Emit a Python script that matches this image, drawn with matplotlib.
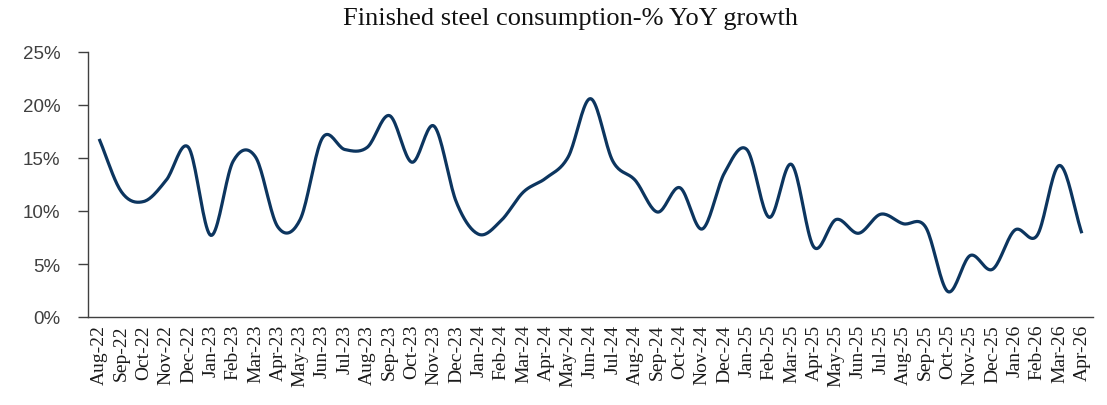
import numpy as np
import matplotlib
matplotlib.use("Agg")
import matplotlib.pyplot as plt
from matplotlib.ticker import FuncFormatter

# ====== DADOS ======
meses = ["Aug-22", "Sep-22", "Oct-22", "Nov-22", "Dec-22",
         "Jan-23", "Feb-23", "Mar-23", "Apr-23", "May-23", "Jun-23",
         "Jul-23", "Aug-23", "Sep-23", "Oct-23", "Nov-23", "Dec-23",
         "Jan-24", "Feb-24", "Mar-24", "Apr-24", "May-24", "Jun-24",
         "Jul-24", "Aug-24", "Sep-24", "Oct-24", "Nov-24", "Dec-24",
         "Jan-25", "Feb-25", "Mar-25", "Apr-25", "May-25", "Jun-25",
         "Jul-25", "Aug-25", "Sep-25", "Oct-25", "Nov-25", "Dec-25",
         "Jan-26", "Feb-26", "Mar-26", "Apr-26"]

crescimento = [16.8, 11.8, 10.9, 12.9, 16.0,
               7.7, 14.7, 15.1, 8.5, 9.2, 16.9,
               15.8, 16.0, 19.0, 14.6, 18.0, 10.8,
               7.8, 9.1, 11.8, 13.1, 15.1, 20.6,
               14.7, 12.9, 9.9, 12.2, 8.3, 13.6,
               15.8, 9.4, 14.4, 6.6, 9.2, 7.9,
               9.7, 8.8, 8.5, 2.4, 5.8, 4.5,
               8.2, 7.7, 14.3, 7.9]


# ====== SUAVIZACAO (estilo linha suave do Excel) ======
def catmull_rom(x, y, n=20):
    x = np.asarray(x, float)
    y = np.asarray(y, float)
    px = np.concatenate([[2 * x[0] - x[1]], x, [2 * x[-1] - x[-2]]])
    py = np.concatenate([[2 * y[0] - y[1]], y, [2 * y[-1] - y[-2]]])
    xs, ys = [], []
    t = np.linspace(0, 1, n, endpoint=False)
    for i in range(1, len(px) - 2):
        p0, p1, p2, p3 = py[i - 1], py[i], py[i + 1], py[i + 2]
        q0, q1, q2, q3 = px[i - 1], px[i], px[i + 1], px[i + 2]
        ys.append(0.5 * (2 * p1 + (-p0 + p2) * t + (2 * p0 - 5 * p1 + 4 * p2 - p3) * t ** 2
                         + (-p0 + 3 * p1 - 3 * p2 + p3) * t ** 3))
        xs.append(0.5 * (2 * q1 + (-q0 + q2) * t + (2 * q0 - 5 * q1 + 4 * q2 - q3) * t ** 2
                         + (-q0 + 3 * q1 - 3 * q2 + q3) * t ** 3))
    xs.append([x[-1]])
    ys.append([y[-1]])
    return np.concatenate(xs), np.concatenate(ys)


x = np.arange(len(meses))
xs, ys = catmull_rom(x, crescimento)

# ====== GRAFICO ======
fig = plt.figure(figsize=(11.07, 4.06), dpi=100)
ax = fig.add_axes([88 / 1107, 1 - 318 / 406, (1093 - 88) / 1107, (318 - 53) / 406])

ax.plot(xs, ys, color="#0c355f", linewidth=2.3, solid_capstyle="butt")

ax.set_ylim(0, 25)
ax.set_yticks([0, 5, 10, 15, 20, 25])
ax.yaxis.set_major_formatter(FuncFormatter(lambda v, p: f"{v:.0f}%"))
ax.set_xlim(-0.5, len(meses) - 0.5)
ax.set_xticks(x)
ax.set_xticklabels(meses, rotation=90, family="Liberation Serif", fontsize=14)

for s in ["top", "right"]:
    ax.spines[s].set_visible(False)
for s in ["left", "bottom"]:
    ax.spines[s].set_color("#404040")
    ax.spines[s].set_linewidth(1.0)

ax.tick_params(axis="y", length=7, width=1, color="#404040", labelsize=13.5,
               labelcolor="#404040", pad=13)
ax.tick_params(axis="x", length=0, pad=5, labelcolor="#1a1a1a")
for lbl in ax.get_yticklabels():
    lbl.set_family("Liberation Sans")

fig.text(0.515, 0.952, "Finished steel consumption-% YoY growth", ha="center", va="center",
         family="Liberation Serif", fontsize=19, color="#111111")

plt.savefig("out.png", dpi=100)
